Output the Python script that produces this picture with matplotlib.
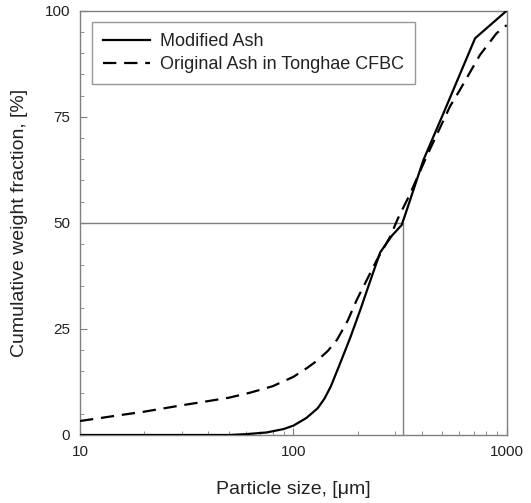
import matplotlib
matplotlib.use("Agg")
import matplotlib.pyplot as plt
from matplotlib.ticker import MultipleLocator, LogLocator, NullFormatter, FixedLocator, FixedFormatter

plt.rcParams['font.family'] = ['Liberation Sans', 'DejaVu Sans']

# particle size [um] and cumulative weight fraction [%]
modified_size = [10, 50, 60, 75, 90, 100, 115, 130, 140, 150, 166, 185, 206, 230, 255, 290, 322, 340, 407, 505, 711, 1000]
modified_frac = [0, 0, 0.2, 0.6, 1.4, 2.2, 4.0, 6.3, 8.6, 11.5, 17.0, 23.0, 29.5, 36.5, 43.0, 47.0, 49.5, 53.0, 64.8, 75.8, 93.5, 100]

original_size = [10, 15, 20, 30, 40, 50, 63, 80, 100, 116, 129, 145, 160, 180, 198, 246, 284, 309, 350, 421, 543, 603, 750, 897, 1000]
original_frac = [3.3, 4.6, 5.5, 7.0, 8.0, 8.8, 10.0, 11.5, 13.7, 15.8, 17.5, 19.8, 22.4, 27.0, 31.8, 41.2, 46.7, 51.0, 56.5, 65.6, 77.5, 81.3, 89.6, 94.7, 96.6]

d50 = 325
yticks = [0, 25, 50, 75, 100]
xticks = [10, 100, 1000]

fig = plt.figure(figsize=(5.31, 5.03), dpi=100)
ax = fig.add_axes([0.1507, 0.1352, 0.8035, 0.8435])

grey = '#7f7f7f'
ax.plot([10, d50], [50, 50], color=grey, lw=1.0, zorder=1)
ax.plot([d50, d50], [0, 50], color=grey, lw=1.0, zorder=1)

ax.plot(modified_size, modified_frac, color='black', lw=1.6, label='Modified Ash', zorder=3)
ax.plot(original_size, original_frac, color='black', lw=1.6, dashes=(6, 3.5),
        label='Original Ash in Tonghae CFBC', zorder=3)

ax.set_xscale('log')
ax.set_xlim(10, 1000)
ax.set_ylim(0, 100)

ax.xaxis.set_major_locator(FixedLocator(xticks))
ax.xaxis.set_major_formatter(FixedFormatter([str(t) for t in xticks]))
ax.xaxis.set_minor_locator(LogLocator(base=10, subs=range(2, 10)))
ax.xaxis.set_minor_formatter(NullFormatter())
ax.yaxis.set_major_locator(FixedLocator(yticks))
ax.yaxis.set_minor_locator(MultipleLocator(5))

for s in ax.spines.values():
    s.set_color(grey)
    s.set_linewidth(1.0)

ax.tick_params(which='both', direction='in', color=grey, top=False, right=False,
               labelsize=11, labelcolor='#222222')
ax.tick_params(which='major', length=5, pad=7)
ax.tick_params(which='minor', length=3)

ax.set_xlabel('Particle size, [\u03bcm]', fontsize=14, color='#222222', labelpad=16)
ax.set_ylabel('Cumulative weight fraction, [%]', fontsize=14, color='#222222', labelpad=12)

leg = ax.legend(loc='upper left', bbox_to_anchor=(0.028, 0.973), borderaxespad=0,
                fontsize=13, frameon=True, fancybox=False, edgecolor=grey,
                handlelength=2.6, borderpad=0.6, labelspacing=0.35, handletextpad=0.55)
leg.get_frame().set_linewidth(1.0)
for t in leg.get_texts():
    t.set_color('#222222')

fig.savefig('out.png', dpi=100)
